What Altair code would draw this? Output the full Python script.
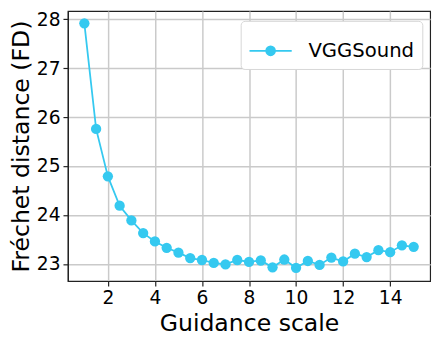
import altair as alt
import pandas as pd

guidance = [1.0, 1.5, 2.0, 2.5, 3.0, 3.5, 4.0, 4.5, 5.0, 5.5, 6.0, 6.5, 7.0, 7.5,
            8.0, 8.5, 9.0, 9.5, 10.0, 10.5, 11.0, 11.5, 12.0, 12.5, 13.0, 13.5,
            14.0, 14.5, 15.0]
fd = [27.92, 25.76, 24.79, 24.19, 23.89, 23.63, 23.46, 23.33, 23.23, 23.12,
      23.08, 23.02, 22.99, 23.08, 23.04, 23.07, 22.93, 23.09, 22.92, 23.06,
      22.98, 23.13, 23.05, 23.21, 23.14, 23.28, 23.24, 23.38, 23.35]
series = ["VGGSound"] * len(guidance)
x_ticks = [2, 4, 6, 8, 10, 12, 14]
y_ticks = [23, 24, 25, 26, 27, 28]

COLOR = "#35c9f0"
FONT = "DejaVu Sans"

df = pd.DataFrame({"g": guidance, "fd": fd, "s": series})

legend_path = ("M-1,0L1,0M-0.21,0A0.21,0.21,0,1,1,0.21,0"
               "A0.21,0.21,0,1,1,-0.21,0Z")

chart = alt.Chart(df).mark_line(
    strokeWidth=1.8,
    point=alt.OverlayMarkDef(filled=True, size=110, color=COLOR, opacity=1),
).encode(
    x=alt.X("g:Q", scale=alt.Scale(domain=[0.3, 15.7], nice=False, zero=False),
            axis=alt.Axis(values=x_ticks, title="Guidance scale", format="d")),
    y=alt.Y("fd:Q", scale=alt.Scale(domain=[22.65, 28.17], nice=False, zero=False),
            axis=alt.Axis(values=y_ticks, title="Fréchet distance (FD)", format="d")),
    color=alt.Color("s:N", scale=alt.Scale(range=[COLOR]),
                    legend=alt.Legend(
                        title=None, orient="none", legendX=176, legendY=10,
                        symbolType=legend_path, symbolSize=1849,
                        symbolFillColor=COLOR, symbolStrokeColor=COLOR,
                        symbolStrokeWidth=1.8, symbolOpacity=1,
                        labelFont=FONT, labelFontSize=20, labelColor="black",
                        labelOffset=16, padding=8,
                        strokeColor="#d6d6d6", fillColor="white",
                        cornerRadius=4)),
).properties(
    width=369, height=275,
    autosize=alt.AutoSizeParams(type="none"),
    padding={"left": 61, "top": 0, "right": 8, "bottom": 60},
).configure_view(
    stroke="#222222", strokeWidth=1.2,
).configure_axis(
    labelFont=FONT, titleFont=FONT, labelFontSize=19, titleFontSize=24,
    labelColor="black", titleColor="black", titleFontWeight="normal",
    domainColor="#222222", domainWidth=1.2,
    tickColor="#222222", tickSize=5, tickWidth=1.2,
    gridColor="#cacaca", gridWidth=1.5, grid=True,
    labelPadding=3,
).configure_axisX(
    titlePadding=4,
).configure_axisY(
    titlePadding=3,
)

chart.save("out.html", embed_options={"renderer": "svg", "actions": False})
